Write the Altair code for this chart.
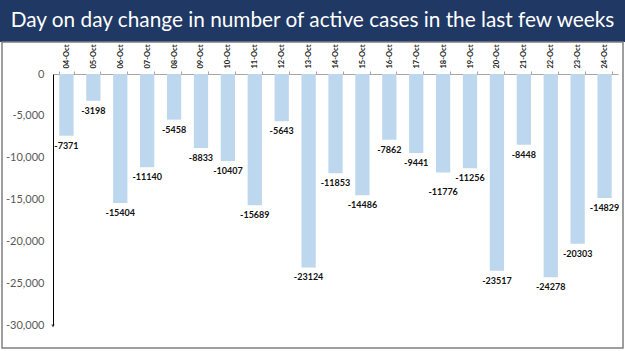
import altair as alt
import pandas as pd

dates = ["04-Oct", "05-Oct", "06-Oct", "07-Oct", "08-Oct", "09-Oct", "10-Oct",
         "11-Oct", "12-Oct", "13-Oct", "14-Oct", "15-Oct", "16-Oct", "17-Oct",
         "18-Oct", "19-Oct", "20-Oct", "21-Oct", "22-Oct", "23-Oct", "24-Oct"]
changes = [-7371, -3198, -15404, -11140, -5458, -8833, -10407,
           -15689, -5643, -23124, -11853, -14486, -7862, -9441,
           -11776, -11256, -23517, -8448, -24278, -20303, -14829]
y_ticks = [0, -5000, -10000, -15000, -20000, -25000, -30000]
title_text = "Day on day change in number of active cases in the last few weeks"

df = pd.DataFrame({"date": dates, "change": changes})

W, H = 565, 251
PL, PT, PR, PB = 53, 74, 7, 26

x = alt.X("date:N", sort=dates, title=None,
          scale=alt.Scale(paddingInner=0.47, paddingOuter=0.235),
          axis=alt.Axis(orient="top", labelAngle=-90, labelFontSize=7.5,
                        labelFontWeight="bold", labelColor="#222222",
                        labelFont="Lato", labelPadding=3,
                        domainColor="#a6a6a6", tickColor="#a6a6a6",
                        tickSize=3, tickBand="extent"))
y = alt.Y("change:Q", title=None,
          scale=alt.Scale(domain=[-30000, 0], nice=False),
          axis=alt.Axis(values=y_ticks,
                        labelExpr="datum.value == 0 ? '0' : '-' + format(-datum.value, ',.0f')",
                        grid=False, ticks=False,
                        labelColor="#595959", labelFont="Lato", labelFontSize=11,
                        labelPadding=9, domainColor="#000000"))

bars = alt.Chart(df).mark_bar(color="#bdd7ee").encode(x=x, y=y)
lab_style = dict(baseline="top", fontSize=9, fontWeight="bold", font="Lato", color="#111111")
base_lab = alt.Chart(df).transform_calculate(lbl="'' + datum.change")
labels = base_lab.transform_filter(alt.datum.date != "18-Oct").mark_text(
    dy=6, **lab_style).encode(x=x, y=y, text="lbl:N")
labels_low = base_lab.transform_filter(alt.datum.date == "18-Oct").mark_text(
    dy=15, **lab_style).encode(x=x, y=y, text="lbl:N")

deco = pd.DataFrame({"k": [0]})
banner = alt.Chart(deco).mark_rect(color="#1f3864").encode(
    x=alt.value(-PL), x2=alt.value(W + PR), y=alt.value(-PT), y2=alt.value(-32))
frame = alt.Chart(deco).mark_rect(fill=None, stroke="#7f7f7f", strokeWidth=1.5).encode(
    x=alt.value(-PL + 2), x2=alt.value(W + PR - 2), y=alt.value(-32), y2=alt.value(H + PB - 3))
title = alt.Chart(deco).mark_text(text=title_text, color="white", fontSize=20.8,
                                  font="Lato", baseline="middle").encode(
    x=alt.value((625 / 2) - PL), y=alt.value(-53))
arrow = alt.Chart(deco).mark_point(shape="triangle-down", filled=True, color="black",
                                   size=12).encode(x=alt.value(0), y=alt.value(H + 1))

chart = alt.layer(banner, frame, bars, labels, labels_low, title, arrow).properties(
    width=W, height=H, autosize=alt.AutoSizeParams(type="none"),
    padding={"left": PL, "top": PT, "right": PR, "bottom": PB},
    background="white"
).configure_view(stroke=None)

chart.save("out.html", embed_options={"renderer": "svg", "actions": False})
